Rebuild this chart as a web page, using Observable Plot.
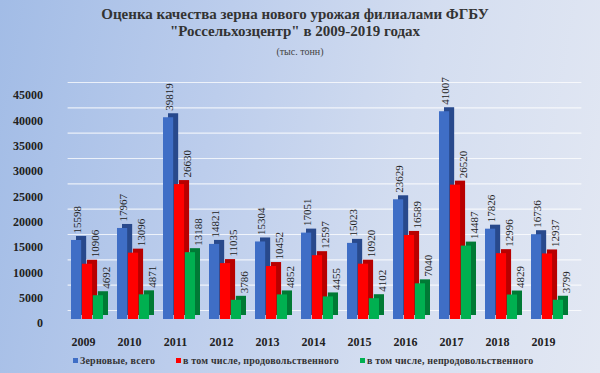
<!DOCTYPE html>
<html>
<head>
<meta charset="utf-8">
<script src="https://cdn.jsdelivr.net/npm/d3@7"></script>
<script src="https://cdn.jsdelivr.net/npm/@observablehq/plot@0.6"></script>
<style>
  html, body { margin: 0; padding: 0; }
  body {
    width: 600px; height: 373px; overflow: hidden; position: relative;
    background: linear-gradient(100deg, #a2bce6 0%, #bccdec 35%, #d3ddf0 65%, #e3e8f3 100%);
    font-family: "Liberation Serif", "Times New Roman", serif;
  }
  #title {
    position: absolute; left: 0; width: 590px; top: 6px; text-align: center;
    font-size: 15px; font-weight: bold; line-height: 17px; color: #333;
  }
  #subtitle {
    position: absolute; left: 0; width: 600px; top: 46px; text-align: center;
    font-size: 10px; color: #444;
  }
  #chart { position: absolute; left: 0; top: 70px; }
  .leg { position: absolute; top: 355px; font-size: 10px; font-weight: bold; color: #333; white-space: nowrap; letter-spacing: 0.2px; }
  .sw { display: inline-block; width: 5px; height: 5px; margin-right: 2px; vertical-align: 1px; }
</style>
</head>
<body>
<div id="title">Оценка качества зерна нового урожая филиалами ФГБУ<br>"Россельхозцентр" в 2009-2019 годах</div>
<div id="subtitle">(тыс. тонн)</div>
<div id="chart"></div>
<div id="legend"></div>
<script>
const years = ["2009","2010","2011","2012","2013","2014","2015","2016","2017","2018","2019"];
const seriesNames = ["Зерновые, всего", "в том числе, продовольственного", "в том числе, непродовольственного"];
const total   = [15598, 17967, 39819, 14821, 15304, 17051, 15023, 23629, 41007, 17826, 16736];
const food    = [10906, 13096, 26630, 11035, 10452, 12597, 10920, 16589, 26520, 12996, 12937];
const nonfood = [4692, 4871, 13188, 3786, 4852, 4455, 4102, 7040, 14487, 4829, 3799];
const yTicks  = [0, 5000, 10000, 15000, 20000, 25000, 30000, 35000, 40000, 45000];

const frontColors = ["#3f6ec6", "#ff0000", "#00b050"];
const sideColors  = ["#28498c", "#b80000", "#007a35"];
const labelDx     = [1, 8, 8];

const values = [total, food, nonfood];
const rows = [];
values.forEach((arr, k) => arr.forEach((v, i) => rows.push({year: years[i], series: seriesNames[k], k, value: v})));

const W = 600, H = 282, ML = 52.6, MR = 18.6, MT = 21, MB = 33, PAD = 0.3;
const step = (W - ML - MR) / (years.length + PAD);
const bw = step * (1 - PAD);
const w = bw / 3;
const font = "Liberation Serif, Times New Roman, serif";

const marks = [];
marks.push(Plot.ruleY(yTicks, {stroke: "#ffffff", strokeOpacity: 0.75, strokeWidth: 1.2, dy: -9, insetLeft: 15}));
for (let k = 0; k < 3; k++) {
  marks.push(Plot.barY(rows.filter(d => d.k === k), {
    x: "year", y: "value", fill: sideColors[k],
    insetLeft: k * w, insetRight: (2 - k) * w, dx: 5, dy: -4
  }));
}
for (let k = 0; k < 3; k++) {
  marks.push(Plot.barY(rows.filter(d => d.k === k), {
    x: "year", y: "value", fill: frontColors[k],
    insetLeft: k * w, insetRight: (2 - k) * w
  }));
}
for (let k = 0; k < 3; k++) {
  marks.push(Plot.text(rows.filter(d => d.k === k), {
    x: "year", y: "value", text: d => String(d.value),
    rotate: -90, textAnchor: "start", dx: (k - 1) * w + labelDx[k], dy: -7,
    fontSize: 11, fontFamily: font, fill: "#222"
  }));
}
marks.push(Plot.axisY({ticks: yTicks, tickSize: 0, tickPadding: 10, tickFormat: d => String(d),
  dy: 4, fontSize: 12, fontWeight: "bold", fontFamily: font, fill: "#222", label: null}));
marks.push(Plot.axisX({tickSize: 0, tickPadding: 18, dx: -4, fontSize: 12, fontWeight: "bold",
  fontFamily: font, fill: "#222", label: null}));

const chart = Plot.plot({
  width: W, height: H,
  marginLeft: ML, marginRight: MR, marginTop: MT, marginBottom: MB,
  style: {background: "transparent", overflow: "visible"},
  x: {type: "band", domain: years, padding: PAD, axis: null},
  y: {domain: [0, 45000], axis: null},
  marks
});
document.getElementById("chart").appendChild(chart);

const legendLeft = [73, 176, 360];
const legend = document.getElementById("legend");
seriesNames.forEach((name, k) => {
  const el = document.createElement("div");
  el.className = "leg";
  el.style.left = legendLeft[k] + "px";
  el.innerHTML = `<span class="sw" style="background:${frontColors[k]}"></span>${name}`;
  legend.appendChild(el);
});
</script>
</body>
</html>
